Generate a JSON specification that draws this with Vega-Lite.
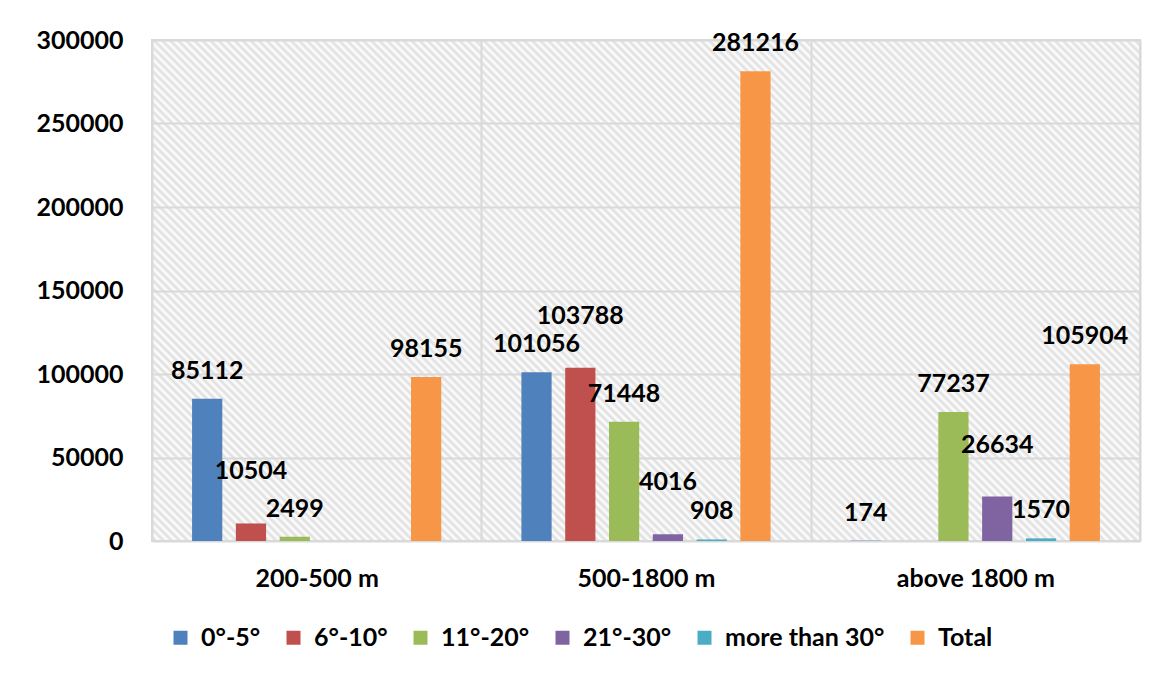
{
  "$schema": "https://vega.github.io/schema/vega-lite/v6.json",
  "width": 988,
  "height": 501,
  "autosize": {"type": "none"},
  "padding": {"left": 152, "top": 40, "right": 11, "bottom": 134},
  "background": "white",
  "view": {
    "stroke": "#d9d9d9",
    "strokeWidth": 2,
    "fill": {
      "gradient": "linear", "x1": 0, "y1": 1, "x2": 1.199, "y2": 0.392,
      "stops": [
{"offset":0,"color":"#ffffff"},{"offset":0.0027,"color":"#dedede"},{"offset":0.0054,"color":"#ffffff"},{"offset":0.0081,"color":"#dedede"},{"offset":0.0108,"color":"#ffffff"},{"offset":0.0135,"color":"#dedede"},{"offset":0.0162,"color":"#ffffff"},{"offset":0.0189,"color":"#dedede"},{"offset":0.0216,"color":"#ffffff"},{"offset":0.0243,"color":"#dedede"},
{"offset":0.027,"color":"#ffffff"},{"offset":0.0297,"color":"#dedede"},{"offset":0.0324,"color":"#ffffff"},{"offset":0.0351,"color":"#dedede"},{"offset":0.0378,"color":"#ffffff"},{"offset":0.0405,"color":"#dedede"},{"offset":0.0432,"color":"#ffffff"},{"offset":0.0459,"color":"#dedede"},{"offset":0.0486,"color":"#ffffff"},{"offset":0.0513,"color":"#dedede"},
{"offset":0.054,"color":"#ffffff"},{"offset":0.0567,"color":"#dedede"},{"offset":0.0594,"color":"#ffffff"},{"offset":0.0621,"color":"#dedede"},{"offset":0.0648,"color":"#ffffff"},{"offset":0.0675,"color":"#dedede"},{"offset":0.0702,"color":"#ffffff"},{"offset":0.0729,"color":"#dedede"},{"offset":0.0756,"color":"#ffffff"},{"offset":0.0783,"color":"#dedede"},
{"offset":0.081,"color":"#ffffff"},{"offset":0.0837,"color":"#dedede"},{"offset":0.0864,"color":"#ffffff"},{"offset":0.0891,"color":"#dedede"},{"offset":0.0918,"color":"#ffffff"},{"offset":0.0945,"color":"#dedede"},{"offset":0.0972,"color":"#ffffff"},{"offset":0.0999,"color":"#dedede"},{"offset":0.1026,"color":"#ffffff"},{"offset":0.1053,"color":"#dedede"},
{"offset":0.108,"color":"#ffffff"},{"offset":0.1107,"color":"#dedede"},{"offset":0.1134,"color":"#ffffff"},{"offset":0.1161,"color":"#dedede"},{"offset":0.1188,"color":"#ffffff"},{"offset":0.1215,"color":"#dedede"},{"offset":0.1242,"color":"#ffffff"},{"offset":0.1269,"color":"#dedede"},{"offset":0.1296,"color":"#ffffff"},{"offset":0.1323,"color":"#dedede"},
{"offset":0.135,"color":"#ffffff"},{"offset":0.1377,"color":"#dedede"},{"offset":0.1404,"color":"#ffffff"},{"offset":0.1431,"color":"#dedede"},{"offset":0.1458,"color":"#ffffff"},{"offset":0.1485,"color":"#dedede"},{"offset":0.1512,"color":"#ffffff"},{"offset":0.1539,"color":"#dedede"},{"offset":0.1566,"color":"#ffffff"},{"offset":0.1593,"color":"#dedede"},
{"offset":0.162,"color":"#ffffff"},{"offset":0.1647,"color":"#dedede"},{"offset":0.1674,"color":"#ffffff"},{"offset":0.1701,"color":"#dedede"},{"offset":0.1728,"color":"#ffffff"},{"offset":0.1755,"color":"#dedede"},{"offset":0.1782,"color":"#ffffff"},{"offset":0.1809,"color":"#dedede"},{"offset":0.1836,"color":"#ffffff"},{"offset":0.1863,"color":"#dedede"},
{"offset":0.189,"color":"#ffffff"},{"offset":0.1917,"color":"#dedede"},{"offset":0.1944,"color":"#ffffff"},{"offset":0.1971,"color":"#dedede"},{"offset":0.1998,"color":"#ffffff"},{"offset":0.2025,"color":"#dedede"},{"offset":0.2052,"color":"#ffffff"},{"offset":0.2079,"color":"#dedede"},{"offset":0.2106,"color":"#ffffff"},{"offset":0.2133,"color":"#dedede"},
{"offset":0.216,"color":"#ffffff"},{"offset":0.2187,"color":"#dedede"},{"offset":0.2214,"color":"#ffffff"},{"offset":0.2241,"color":"#dedede"},{"offset":0.2268,"color":"#ffffff"},{"offset":0.2295,"color":"#dedede"},{"offset":0.2322,"color":"#ffffff"},{"offset":0.2349,"color":"#dedede"},{"offset":0.2376,"color":"#ffffff"},{"offset":0.2403,"color":"#dedede"},
{"offset":0.243,"color":"#ffffff"},{"offset":0.2457,"color":"#dedede"},{"offset":0.2484,"color":"#ffffff"},{"offset":0.2511,"color":"#dedede"},{"offset":0.2538,"color":"#ffffff"},{"offset":0.2565,"color":"#dedede"},{"offset":0.2592,"color":"#ffffff"},{"offset":0.2619,"color":"#dedede"},{"offset":0.2646,"color":"#ffffff"},{"offset":0.2673,"color":"#dedede"},
{"offset":0.27,"color":"#ffffff"},{"offset":0.2727,"color":"#dedede"},{"offset":0.2754,"color":"#ffffff"},{"offset":0.2781,"color":"#dedede"},{"offset":0.2808,"color":"#ffffff"},{"offset":0.2835,"color":"#dedede"},{"offset":0.2862,"color":"#ffffff"},{"offset":0.2889,"color":"#dedede"},{"offset":0.2916,"color":"#ffffff"},{"offset":0.2943,"color":"#dedede"},
{"offset":0.297,"color":"#ffffff"},{"offset":0.2997,"color":"#dedede"},{"offset":0.3024,"color":"#ffffff"},{"offset":0.3051,"color":"#dedede"},{"offset":0.3078,"color":"#ffffff"},{"offset":0.3105,"color":"#dedede"},{"offset":0.3132,"color":"#ffffff"},{"offset":0.3159,"color":"#dedede"},{"offset":0.3186,"color":"#ffffff"},{"offset":0.3213,"color":"#dedede"},
{"offset":0.324,"color":"#ffffff"},{"offset":0.3267,"color":"#dedede"},{"offset":0.3294,"color":"#ffffff"},{"offset":0.3321,"color":"#dedede"},{"offset":0.3348,"color":"#ffffff"},{"offset":0.3375,"color":"#dedede"},{"offset":0.3402,"color":"#ffffff"},{"offset":0.3429,"color":"#dedede"},{"offset":0.3456,"color":"#ffffff"},{"offset":0.3483,"color":"#dedede"},
{"offset":0.351,"color":"#ffffff"},{"offset":0.3537,"color":"#dedede"},{"offset":0.3564,"color":"#ffffff"},{"offset":0.3591,"color":"#dedede"},{"offset":0.3618,"color":"#ffffff"},{"offset":0.3645,"color":"#dedede"},{"offset":0.3672,"color":"#ffffff"},{"offset":0.3699,"color":"#dedede"},{"offset":0.3726,"color":"#ffffff"},{"offset":0.3753,"color":"#dedede"},
{"offset":0.378,"color":"#ffffff"},{"offset":0.3807,"color":"#dedede"},{"offset":0.3834,"color":"#ffffff"},{"offset":0.3861,"color":"#dedede"},{"offset":0.3888,"color":"#ffffff"},{"offset":0.3915,"color":"#dedede"},{"offset":0.3942,"color":"#ffffff"},{"offset":0.3969,"color":"#dedede"},{"offset":0.3996,"color":"#ffffff"},{"offset":0.4023,"color":"#dedede"},
{"offset":0.405,"color":"#ffffff"},{"offset":0.4077,"color":"#dedede"},{"offset":0.4104,"color":"#ffffff"},{"offset":0.4131,"color":"#dedede"},{"offset":0.4158,"color":"#ffffff"},{"offset":0.4185,"color":"#dedede"},{"offset":0.4212,"color":"#ffffff"},{"offset":0.4239,"color":"#dedede"},{"offset":0.4266,"color":"#ffffff"},{"offset":0.4293,"color":"#dedede"},
{"offset":0.432,"color":"#ffffff"},{"offset":0.4347,"color":"#dedede"},{"offset":0.4374,"color":"#ffffff"},{"offset":0.4401,"color":"#dedede"},{"offset":0.4428,"color":"#ffffff"},{"offset":0.4455,"color":"#dedede"},{"offset":0.4482,"color":"#ffffff"},{"offset":0.4509,"color":"#dedede"},{"offset":0.4536,"color":"#ffffff"},{"offset":0.4563,"color":"#dedede"},
{"offset":0.459,"color":"#ffffff"},{"offset":0.4617,"color":"#dedede"},{"offset":0.4644,"color":"#ffffff"},{"offset":0.4671,"color":"#dedede"},{"offset":0.4698,"color":"#ffffff"},{"offset":0.4725,"color":"#dedede"},{"offset":0.4752,"color":"#ffffff"},{"offset":0.4779,"color":"#dedede"},{"offset":0.4806,"color":"#ffffff"},{"offset":0.4833,"color":"#dedede"},
{"offset":0.486,"color":"#ffffff"},{"offset":0.4887,"color":"#dedede"},{"offset":0.4914,"color":"#ffffff"},{"offset":0.4941,"color":"#dedede"},{"offset":0.4968,"color":"#ffffff"},{"offset":0.4995,"color":"#dedede"},{"offset":0.5022,"color":"#ffffff"},{"offset":0.5049,"color":"#dedede"},{"offset":0.5076,"color":"#ffffff"},{"offset":0.5103,"color":"#dedede"},
{"offset":0.513,"color":"#ffffff"},{"offset":0.5157,"color":"#dedede"},{"offset":0.5184,"color":"#ffffff"},{"offset":0.5211,"color":"#dedede"},{"offset":0.5238,"color":"#ffffff"},{"offset":0.5265,"color":"#dedede"},{"offset":0.5292,"color":"#ffffff"},{"offset":0.5319,"color":"#dedede"},{"offset":0.5346,"color":"#ffffff"},{"offset":0.5373,"color":"#dedede"},
{"offset":0.54,"color":"#ffffff"},{"offset":0.5427,"color":"#dedede"},{"offset":0.5454,"color":"#ffffff"},{"offset":0.5481,"color":"#dedede"},{"offset":0.5508,"color":"#ffffff"},{"offset":0.5535,"color":"#dedede"},{"offset":0.5562,"color":"#ffffff"},{"offset":0.5589,"color":"#dedede"},{"offset":0.5616,"color":"#ffffff"},{"offset":0.5643,"color":"#dedede"},
{"offset":0.567,"color":"#ffffff"},{"offset":0.5697,"color":"#dedede"},{"offset":0.5724,"color":"#ffffff"},{"offset":0.5751,"color":"#dedede"},{"offset":0.5778,"color":"#ffffff"},{"offset":0.5805,"color":"#dedede"},{"offset":0.5832,"color":"#ffffff"},{"offset":0.5859,"color":"#dedede"},{"offset":0.5886,"color":"#ffffff"},{"offset":0.5913,"color":"#dedede"},
{"offset":0.594,"color":"#ffffff"},{"offset":0.5967,"color":"#dedede"},{"offset":0.5994,"color":"#ffffff"},{"offset":0.6021,"color":"#dedede"},{"offset":0.6048,"color":"#ffffff"},{"offset":0.6075,"color":"#dedede"},{"offset":0.6102,"color":"#ffffff"},{"offset":0.6129,"color":"#dedede"},{"offset":0.6156,"color":"#ffffff"},{"offset":0.6183,"color":"#dedede"},
{"offset":0.621,"color":"#ffffff"},{"offset":0.6237,"color":"#dedede"},{"offset":0.6264,"color":"#ffffff"},{"offset":0.6291,"color":"#dedede"},{"offset":0.6318,"color":"#ffffff"},{"offset":0.6345,"color":"#dedede"},{"offset":0.6372,"color":"#ffffff"},{"offset":0.6399,"color":"#dedede"},{"offset":0.6426,"color":"#ffffff"},{"offset":0.6453,"color":"#dedede"},
{"offset":0.648,"color":"#ffffff"},{"offset":0.6507,"color":"#dedede"},{"offset":0.6534,"color":"#ffffff"},{"offset":0.6561,"color":"#dedede"},{"offset":0.6588,"color":"#ffffff"},{"offset":0.6615,"color":"#dedede"},{"offset":0.6642,"color":"#ffffff"},{"offset":0.6669,"color":"#dedede"},{"offset":0.6696,"color":"#ffffff"},{"offset":0.6723,"color":"#dedede"},
{"offset":0.675,"color":"#ffffff"},{"offset":0.6777,"color":"#dedede"},{"offset":0.6804,"color":"#ffffff"},{"offset":0.6831,"color":"#dedede"},{"offset":0.6858,"color":"#ffffff"},{"offset":0.6885,"color":"#dedede"},{"offset":0.6912,"color":"#ffffff"},{"offset":0.6939,"color":"#dedede"},{"offset":0.6966,"color":"#ffffff"},{"offset":0.6993,"color":"#dedede"},
{"offset":0.702,"color":"#ffffff"},{"offset":0.7047,"color":"#dedede"},{"offset":0.7074,"color":"#ffffff"},{"offset":0.7101,"color":"#dedede"},{"offset":0.7128,"color":"#ffffff"},{"offset":0.7155,"color":"#dedede"},{"offset":0.7182,"color":"#ffffff"},{"offset":0.7209,"color":"#dedede"},{"offset":0.7236,"color":"#ffffff"},{"offset":0.7263,"color":"#dedede"},
{"offset":0.729,"color":"#ffffff"},{"offset":0.7317,"color":"#dedede"},{"offset":0.7344,"color":"#ffffff"},{"offset":0.7371,"color":"#dedede"},{"offset":0.7398,"color":"#ffffff"},{"offset":0.7425,"color":"#dedede"},{"offset":0.7452,"color":"#ffffff"},{"offset":0.7479,"color":"#dedede"},{"offset":0.7506,"color":"#ffffff"},{"offset":0.7533,"color":"#dedede"},
{"offset":0.756,"color":"#ffffff"},{"offset":0.7587,"color":"#dedede"},{"offset":0.7614,"color":"#ffffff"},{"offset":0.7641,"color":"#dedede"},{"offset":0.7668,"color":"#ffffff"},{"offset":0.7695,"color":"#dedede"},{"offset":0.7722,"color":"#ffffff"},{"offset":0.7749,"color":"#dedede"},{"offset":0.7776,"color":"#ffffff"},{"offset":0.7803,"color":"#dedede"},
{"offset":0.783,"color":"#ffffff"},{"offset":0.7857,"color":"#dedede"},{"offset":0.7884,"color":"#ffffff"},{"offset":0.7911,"color":"#dedede"},{"offset":0.7938,"color":"#ffffff"},{"offset":0.7965,"color":"#dedede"},{"offset":0.7992,"color":"#ffffff"},{"offset":0.8019,"color":"#dedede"},{"offset":0.8046,"color":"#ffffff"},{"offset":0.8073,"color":"#dedede"},
{"offset":0.81,"color":"#ffffff"},{"offset":0.8127,"color":"#dedede"},{"offset":0.8154,"color":"#ffffff"},{"offset":0.8181,"color":"#dedede"},{"offset":0.8208,"color":"#ffffff"},{"offset":0.8235,"color":"#dedede"},{"offset":0.8262,"color":"#ffffff"},{"offset":0.8289,"color":"#dedede"},{"offset":0.8316,"color":"#ffffff"},{"offset":0.8343,"color":"#dedede"},
{"offset":0.837,"color":"#ffffff"},{"offset":0.8397,"color":"#dedede"},{"offset":0.8424,"color":"#ffffff"},{"offset":0.8451,"color":"#dedede"},{"offset":0.8478,"color":"#ffffff"},{"offset":0.8505,"color":"#dedede"},{"offset":0.8532,"color":"#ffffff"},{"offset":0.8559,"color":"#dedede"},{"offset":0.8586,"color":"#ffffff"},{"offset":0.8613,"color":"#dedede"},
{"offset":0.864,"color":"#ffffff"},{"offset":0.8667,"color":"#dedede"},{"offset":0.8694,"color":"#ffffff"},{"offset":0.8721,"color":"#dedede"},{"offset":0.8748,"color":"#ffffff"},{"offset":0.8775,"color":"#dedede"},{"offset":0.8802,"color":"#ffffff"},{"offset":0.8829,"color":"#dedede"},{"offset":0.8856,"color":"#ffffff"},{"offset":0.8883,"color":"#dedede"},
{"offset":0.891,"color":"#ffffff"},{"offset":0.8937,"color":"#dedede"},{"offset":0.8964,"color":"#ffffff"},{"offset":0.8991,"color":"#dedede"},{"offset":0.9018,"color":"#ffffff"},{"offset":0.9045,"color":"#dedede"},{"offset":0.9072,"color":"#ffffff"},{"offset":0.9099,"color":"#dedede"},{"offset":0.9126,"color":"#ffffff"},{"offset":0.9153,"color":"#dedede"},
{"offset":0.918,"color":"#ffffff"},{"offset":0.9207,"color":"#dedede"},{"offset":0.9234,"color":"#ffffff"},{"offset":0.9261,"color":"#dedede"},{"offset":0.9288,"color":"#ffffff"},{"offset":0.9315,"color":"#dedede"},{"offset":0.9342,"color":"#ffffff"},{"offset":0.9369,"color":"#dedede"},{"offset":0.9396,"color":"#ffffff"},{"offset":0.9423,"color":"#dedede"},
{"offset":0.945,"color":"#ffffff"},{"offset":0.9477,"color":"#dedede"},{"offset":0.9504,"color":"#ffffff"},{"offset":0.9531,"color":"#dedede"},{"offset":0.9558,"color":"#ffffff"},{"offset":0.9585,"color":"#dedede"},{"offset":0.9612,"color":"#ffffff"},{"offset":0.9639,"color":"#dedede"},{"offset":0.9666,"color":"#ffffff"},{"offset":0.9693,"color":"#dedede"},
{"offset":0.972,"color":"#ffffff"},{"offset":0.9747,"color":"#dedede"},{"offset":0.9774,"color":"#ffffff"},{"offset":0.9801,"color":"#dedede"},{"offset":0.9828,"color":"#ffffff"},{"offset":0.9855,"color":"#dedede"},{"offset":0.9882,"color":"#ffffff"},{"offset":0.9909,"color":"#dedede"},{"offset":0.9936,"color":"#ffffff"},{"offset":0.9963,"color":"#dedede"},
{"offset":0.999,"color":"#ffffff"}
      ]
    }
  },
  "config": {
    "font": "Lato",
    "axis": {"labelFont": "Lato", "labelColor": "#000000", "labelFontSize": 25, "labelFontWeight": "bold", "title": null},
    "legend": {"labelFont": "Lato"}
  },
  "data": {
    "values": [
      {"zone": "200-500 m", "slope": "0°-5°", "count": 85112},
      {"zone": "200-500 m", "slope": "6°-10°", "count": 10504},
      {"zone": "200-500 m", "slope": "11°-20°", "count": 2499},
      {"zone": "200-500 m", "slope": "Total", "count": 98155},
      {"zone": "500-1800 m", "slope": "0°-5°", "count": 101056},
      {"zone": "500-1800 m", "slope": "6°-10°", "count": 103788},
      {"zone": "500-1800 m", "slope": "11°-20°", "count": 71448},
      {"zone": "500-1800 m", "slope": "21°-30°", "count": 4016},
      {"zone": "500-1800 m", "slope": "more than 30°", "count": 908},
      {"zone": "500-1800 m", "slope": "Total", "count": 281216},
      {"zone": "above 1800 m", "slope": "0°-5°", "count": 174},
      {"zone": "above 1800 m", "slope": "11°-20°", "count": 77237},
      {"zone": "above 1800 m", "slope": "21°-30°", "count": 26634},
      {"zone": "above 1800 m", "slope": "more than 30°", "count": 1570},
      {"zone": "above 1800 m", "slope": "Total", "count": 105904}
    ]
  },
  "encoding": {
    "x": {
      "field": "zone", "type": "nominal",
      "sort": ["200-500 m", "500-1800 m", "above 1800 m"],
      "scale": {"paddingInner": 0, "paddingOuter": 0},
      "axis": {"title": null, "labelAngle": 0, "ticks": false, "tickSize": 0, "domain": false, "labelPadding": 25, "grid": true, "tickBand": "extent", "gridColor": "#d9d9d9", "gridWidth": 2}
    },
    "xOffset": {
      "field": "slope", "type": "nominal",
      "scale": {"domain": ["0°-5°", "6°-10°", "11°-20°", "21°-30°", "more than 30°", "Total"], "paddingInner": 0.31, "paddingOuter": 0.915}
    },
    "y": {
      "field": "count", "type": "quantitative",
      "scale": {"domain": [0, 300000], "nice": false},
      "axis": {"title": null, "values": [0, 50000, 100000, 150000, 200000, 250000, 300000], "format": "d", "ticks": false, "tickSize": 0, "domain": false, "labelPadding": 29, "gridColor": "#d9d9d9", "gridWidth": 2}
    }
  },
  "layer": [
    {
      "mark": {"type": "bar"},
      "encoding": {
        "color": {
          "field": "slope", "type": "nominal",
          "scale": {"domain": ["0°-5°", "6°-10°", "11°-20°", "21°-30°", "more than 30°", "Total"], "range": ["#4f81bd", "#c0504d", "#9bbb59", "#8064a2", "#4bacc6", "#f79646"]},
          "legend": {"title": null, "orient": "none", "direction": "horizontal", "legendX": 16, "legendY": 585, "symbolType": "square", "symbolSize": 196, "symbolStrokeWidth": 0, "symbolOpacity": 1, "labelFontSize": 25, "labelFontWeight": "bold", "labelColor": "#000000", "labelOffset": 8, "columnPadding": 20, "labelLimit": 400, "padding": 0}
        }
      }
    },
    {
      "transform": [{"filter": "datum.slope !== '6°-10°' && datum.slope !== '21°-30°'"}],
      "mark": {"type": "text", "dy": -20, "fontSize": 25, "fontWeight": "bold", "color": "#000000", "baseline": "alphabetic", "align": "center"},
      "encoding": {"text": {"field": "count", "type": "quantitative", "format": "d"}}
    },
    {
      "transform": [{"filter": "datum.slope === '6°-10°' || datum.slope === '21°-30°'"}],
      "mark": {"type": "text", "dy": -44, "fontSize": 25, "fontWeight": "bold", "color": "#000000", "baseline": "alphabetic", "align": "center"},
      "encoding": {"text": {"field": "count", "type": "quantitative", "format": "d"}}
    }
  ]
}
